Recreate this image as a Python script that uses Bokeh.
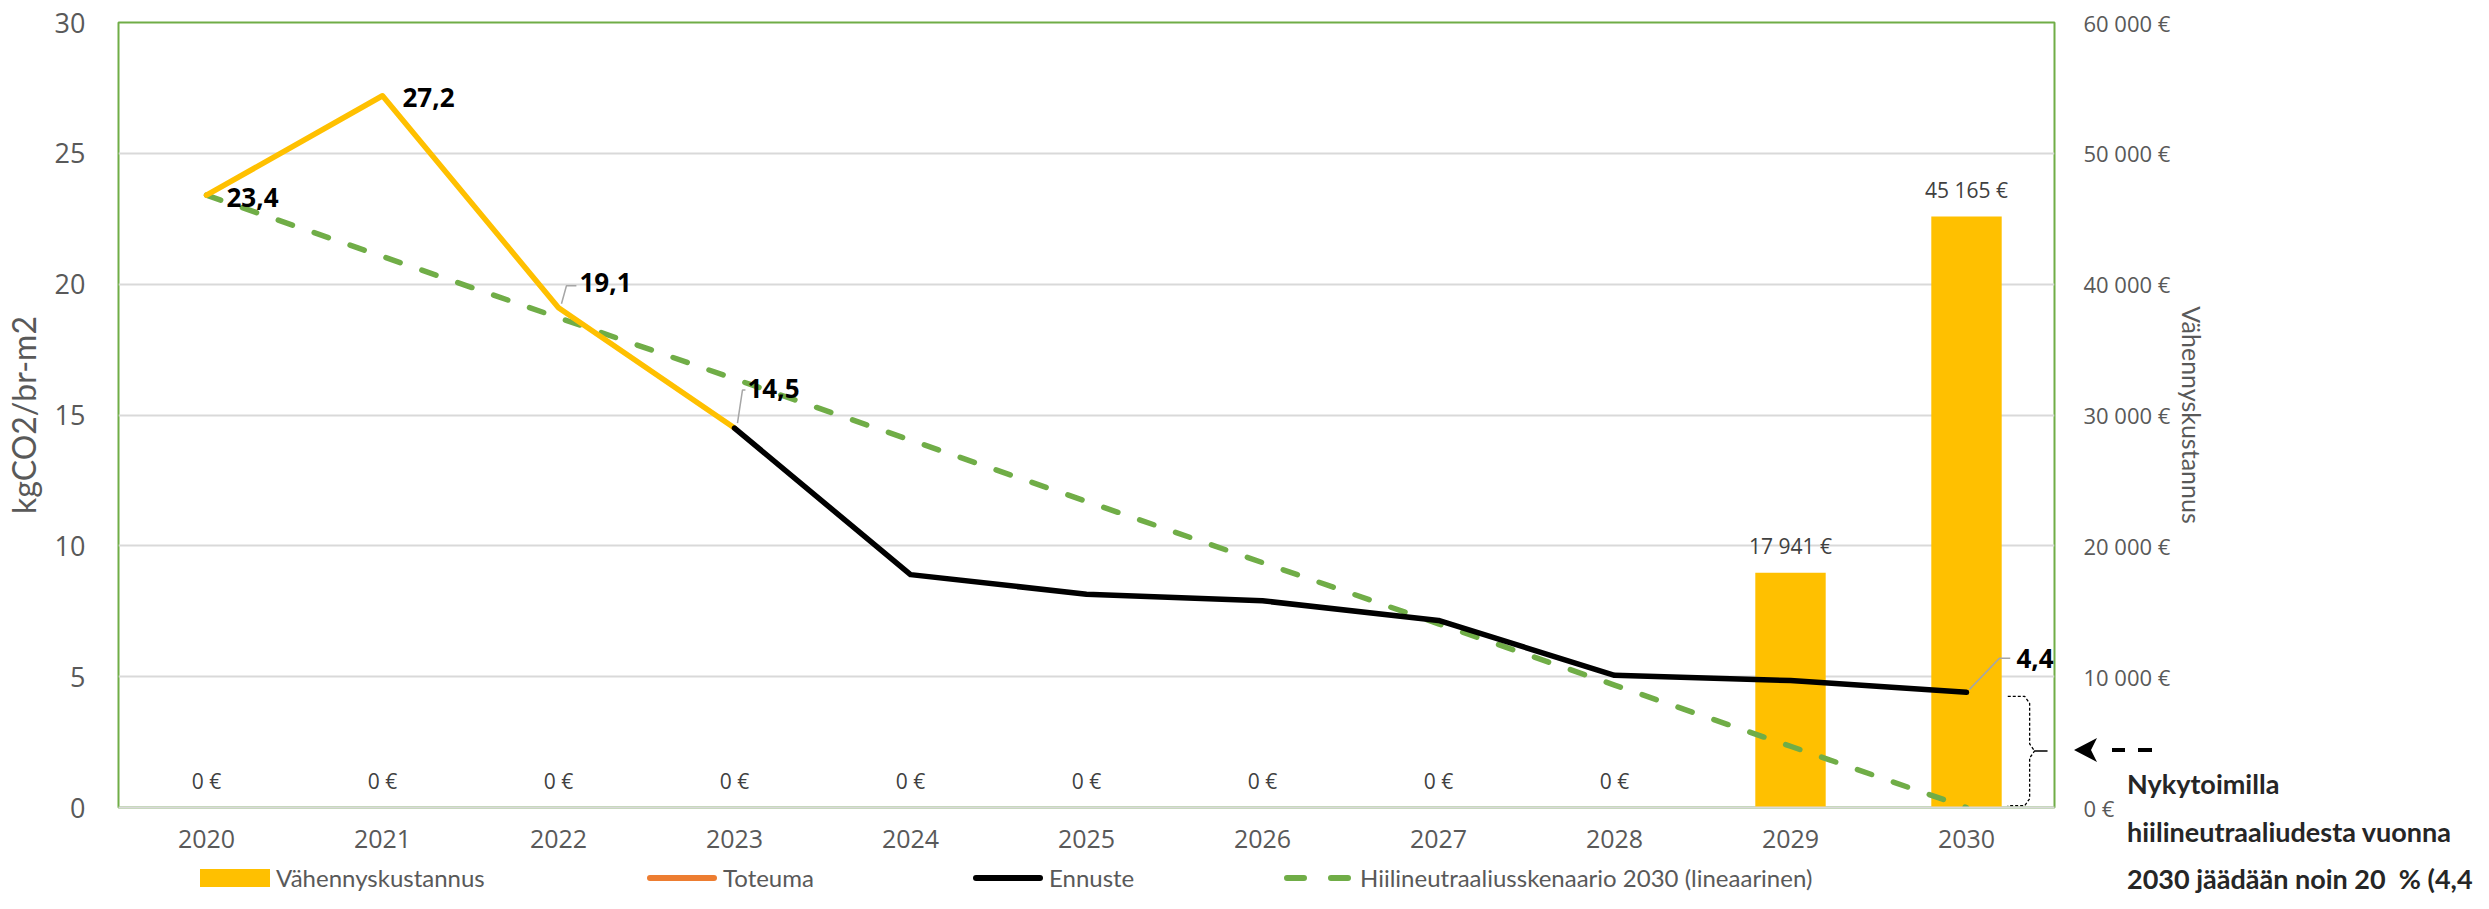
from bokeh.plotting import figure
from bokeh.models import (ColumnDataSource, FactorRange, Range1d, LinearAxis, FixedTicker,
                          GridBox, Div)
from bokeh.core.properties import value
from bokeh.embed import file_html
from bokeh.resources import INLINE

# ---------------- data ----------------
years = ["2020", "2021", "2022", "2023", "2024", "2025", "2026", "2027", "2028", "2029", "2030"]
cost = [0, 0, 0, 0, 0, 0, 0, 0, 0, 17941, 45165]
toteuma_years = ["2020", "2021", "2022", "2023"]
toteuma = [23.4, 27.2, 19.1, 14.5]
ennuste_years = ["2023", "2024", "2025", "2026", "2027", "2028", "2029", "2030"]
ennuste = [14.5, 8.9, 8.15, 7.9, 7.15, 5.05, 4.85, 4.4]
skenaario = [23.4, 21.06, 18.72, 16.38, 14.04, 11.70, 9.36, 7.02, 4.68, 2.34, 0.0]
label_years = ["2020", "2021", "2022", "2023", "2030"]
label_values = [23.4, 27.2, 19.1, 14.5, 4.4]
kg_ticks = [0, 5, 10, 15, 20, 25, 30]
eur_ticks = [0, 10000, 20000, 30000, 40000, 50000, 60000]
note_lines = ["Nykytoimilla", "hiilineutraaliudesta vuonna", "2030 jäädään noin 20  % (4,4"]
series_names = ["Vähennyskustannus", "Toteuma", "Ennuste", "Hiilineutraaliusskenaario 2030 (lineaarinen)"]


def eur(v):
    return f"{v:,}".replace(",", " ") + " €"


def fi(v):
    return f"{v:.1f}".replace(".", ",")


# ---------------- layout constants ----------------
FIG_W, FIG_H = 2473, 893
B_LEFT, B_RIGHT, B_TOP, B_BOTTOM = 107, 419, 22, 86
FRAME_W = FIG_W - B_LEFT - B_RIGHT
FRAME_H = FIG_H - B_TOP - B_BOTTOM
FRAME_R = B_LEFT + FRAME_W
FRAME_B = B_TOP + FRAME_H
PX_X = FRAME_W / len(years)      # px per category
PX_Y = FRAME_H / 30.0            # px per kg
NX = len(years)

GOLD = "#FFC000"
ORANGE = "#ED7D31"
GREEN = "#70AD47"
GREY_TXT = "#595959"
GRID = "#D9D9D9"

p = figure(x_range=FactorRange(factors=years), y_range=Range1d(0, 30),
           width=FIG_W, height=FIG_H, output_backend="svg", toolbar_location=None,
           min_border_left=B_LEFT, min_border_right=B_RIGHT,
           min_border_top=B_TOP, min_border_bottom=B_BOTTOM)
p.extra_y_ranges = {"eur": Range1d(0, 60000)}
p.background_fill_color = "white"
p.border_fill_color = "white"
p.outline_line_color = GREEN
p.outline_line_width = 2

# grid
p.xgrid.grid_line_color = None
p.ygrid.ticker = FixedTicker(ticks=kg_ticks)
p.ygrid.grid_line_color = GRID
p.ygrid.grid_line_width = 2

# left axis
ya = p.yaxis[0]
ya.ticker = FixedTicker(ticks=kg_ticks)
ya.axis_line_color = None
ya.major_tick_line_color = None
ya.minor_tick_line_color = None
ya.major_label_standoff = 27
ya.major_label_text_font = "Open Sans"
ya.major_label_text_font_size = "27px"
ya.major_label_text_color = GREY_TXT
ya.axis_label = "kgCO2/br-m2"
ya.axis_label_text_font = "Lato"
ya.axis_label_text_font_style = "normal"
ya.axis_label_text_font_size = "32px"
ya.axis_label_text_color = GREY_TXT
ya.axis_label_standoff = 9

# bottom axis
xa = p.xaxis[0]
xa.axis_line_color = GRID
xa.axis_line_width = 2
xa.major_tick_line_color = None
xa.minor_tick_line_color = None
xa.major_label_standoff = 16
xa.major_label_text_font = "Open Sans"
xa.major_label_text_font_size = "25px"
xa.major_label_text_color = GREY_TXT

# right axis
ra = LinearAxis(y_range_name="eur", ticker=FixedTicker(ticks=eur_ticks),
                major_label_overrides={t: eur(t) for t in eur_ticks})
ra.axis_line_color = None
ra.major_tick_line_color = None
ra.minor_tick_line_color = None
ra.major_label_standoff = 23
ra.major_label_text_font = "Open Sans"
ra.major_label_text_font_size = "22px"
ra.major_label_text_color = GREY_TXT
ra.axis_label = "Vähennyskustannus"
ra.axis_label_text_font = "Lato"
ra.axis_label_text_font_style = "normal"
ra.axis_label_text_font_size = "25px"
ra.axis_label_text_color = GREY_TXT
ra.axis_label_standoff = 4
p.add_layout(ra, "right")

# bars (cost)
bar_src = ColumnDataSource(dict(x=years, top=cost, lbl=[eur(c) for c in cost]))
bars = p.vbar(x="x", top="top", width=0.4, source=bar_src, y_range_name="eur",
              fill_color=GOLD, line_color=None)
p.text(x="x", y="top", text="lbl", source=bar_src, y_range_name="eur",
       y_offset=-27, text_align="center", text_baseline="middle",
       text_font=value("Open Sans"), text_font_size="21px", text_color="#404040")

# lines
sken = p.line(x=years, y=skenaario, line_color=GREEN, line_width=5.5,
              line_dash="15 23", line_cap="round")
tot = p.line(x=toteuma_years, y=toteuma, line_color=GOLD, line_width=5.5,
             line_join="round", line_cap="round")
enn = p.line(x=ennuste_years, y=ennuste, line_color="black", line_width=5.5,
             line_join="round", line_cap="round")

# value labels with leader lines (offsets in screen px, y down)
lbl_dx = [20, 20, 21, 13, 50]
lbl_dy = [2, 2, -25, -40, -34]
leaders = [None, None, [(3, -4), (8, -22), (18, -22)],
           [(3, -5), (8, -38), (11, -38)], [(3, -3), (33, -34), (44, -34)]]
lbl_src = ColumnDataSource(dict(x=label_years, y=label_values,
                                text=[fi(v) for v in label_values],
                                xo=lbl_dx, yo=lbl_dy))
p.text(x="x", y="y", text="text", x_offset="xo", y_offset="yo", source=lbl_src,
       text_align="left", text_baseline="middle", text_font=value("Open Sans"),
       text_font_style="bold", text_font_size="26px", text_color="black")

leader_xs, leader_ys = [], []
for yr, v, pts in zip(label_years, label_values, leaders):
    if pts is None:
        continue
    cx = years.index(yr) + 0.5
    leader_xs.append([cx + a / PX_X for a, b in pts])
    leader_ys.append([v - b / PX_Y for a, b in pts])
p.multi_line(xs=leader_xs, ys=leader_ys, line_color="#A6A6A6", line_width=1.5)

# brace between forecast and target in 2030
top_y = ennuste[-1] - 0.15
bot_y = skenaario[-1] + 0.07
mid_y = (top_y + bot_y) / 2
xv = NX - 25 / PX_X
xh = NX - 47 / PX_X
xt = NX - 7 / PX_X
e = 5 / PX_X
ey = 7 / PX_Y
brace_x = [xh, xv - e, xv, xv, xv + e, xt, xv + e, xv, xv, xv - e, xh]
brace_y = [top_y, top_y, top_y - ey, mid_y + ey, mid_y, mid_y, mid_y, mid_y - ey, bot_y + ey, bot_y, bot_y]
p.line(x=brace_x, y=brace_y, line_color="black", line_width=1.3, line_dash="3 2")

# ---------------- overlay: legend, note and arrow outside the plot area ----------------
LEG_Y = FRAME_B + 71          # legend row centre
leg_x = [B_LEFT + 93, B_LEFT + 540, B_LEFT + 866, B_LEFT + 1177]


def swatch(kind):
    if kind == 0:
        return f'<div style="width:70px;height:18px;background:{GOLD};"></div>'
    color = {1: ORANGE, 2: "black", 3: GREEN}[kind]
    dash = ' stroke-dasharray="17 27"' if kind == 3 else ""
    return (f'<svg width="70" height="18" style="display:block;overflow:visible">'
            f'<line x1="3" y1="9" x2="67" y2="9" stroke="{color}" stroke-width="6" '
            f'stroke-linecap="round"{dash}/></svg>')


parts = [f'<div style="position:relative;width:{FIG_W}px;height:{FIG_H}px;overflow:hidden;'
         f'pointer-events:none;">']
for i, (name, x0) in enumerate(zip(series_names, leg_x)):
    parts.append(f'<div style="position:absolute;left:{x0}px;top:{LEG_Y - 9}px;">{swatch(i)}</div>')
    parts.append(f'<div style="position:absolute;left:{x0 + 76}px;top:{LEG_Y - 15}px;height:30px;'
                 f'line-height:30px;white-space:nowrap;font-family:Lato;font-size:24px;'
                 f'color:{GREY_TXT};">{name}</div>')

note_y = [FRAME_B - 23, FRAME_B + 25, FRAME_B + 72]
for line, yc in zip(note_lines, note_y):
    parts.append(f'<div style="position:absolute;left:{FRAME_R + 73}px;top:{yc - 17}px;height:34px;'
                 f'line-height:34px;white-space:pre;font-family:Lato;font-weight:bold;'
                 f'font-size:27px;color:#262626;">{line}</div>')

ay = round(FRAME_B - mid_y * PX_Y)
tip = FRAME_R + 20
parts.append(
    f'<svg style="position:absolute;left:{tip - 2}px;top:{ay - 14}px;overflow:visible" '
    f'width="84" height="28">'
    f'<path d="M2 14 L25 2 L19 14 L25 26 Z" fill="black"/>'
    f'<line x1="40" y1="14" x2="53" y2="14" stroke="black" stroke-width="4"/>'
    f'<line x1="66" y1="14" x2="80" y2="14" stroke="black" stroke-width="4"/>'
    f'</svg>')
parts.append('</div>')

ov = Div(text="".join(parts), width=FIG_W, height=FIG_H, margin=0)

layout = GridBox(children=[(p, 0, 0), (ov, 0, 0)])
open("out.html", "w").write(file_html(layout, INLINE))
